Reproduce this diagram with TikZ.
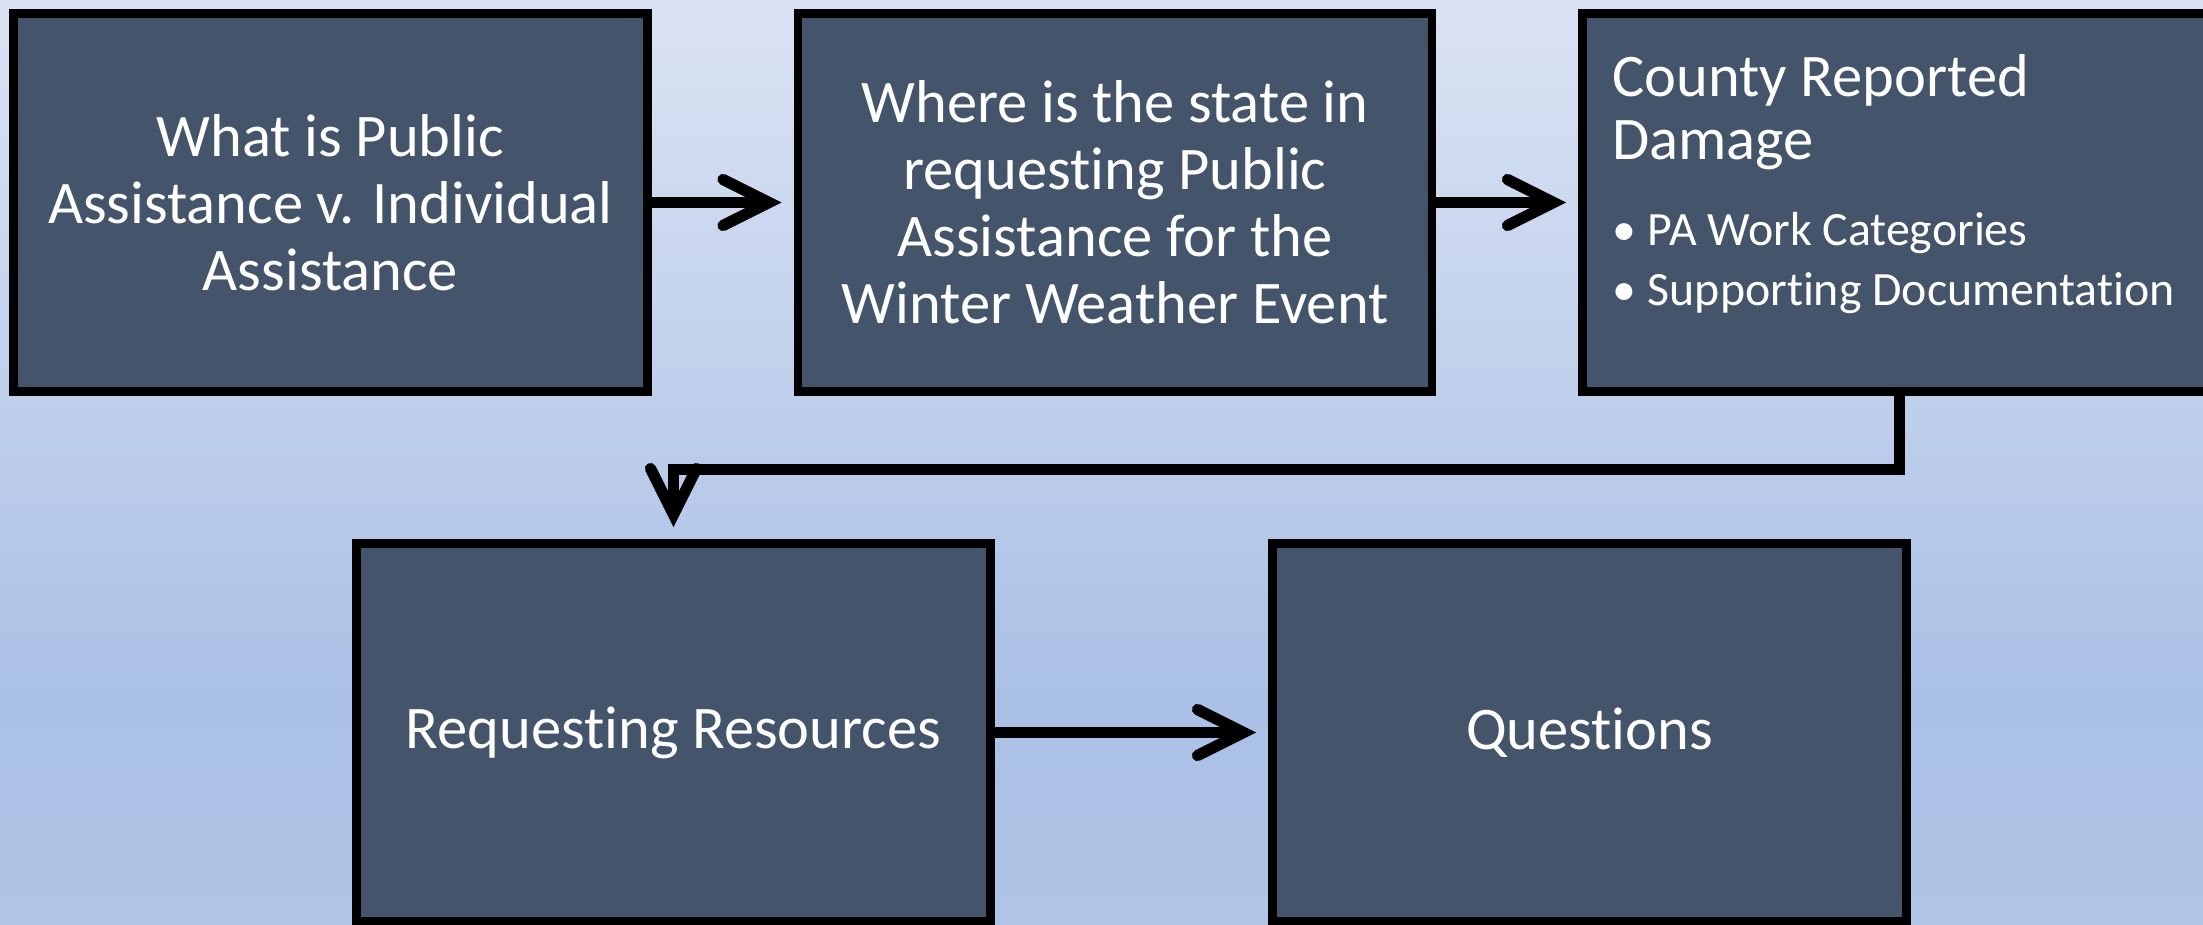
\documentclass[tikz,border=0pt]{standalone}
\usepackage{fontspec}
\setmainfont{Carlito}[Ligatures={NoCommon}]
\usepackage{tikz}
\usetikzlibrary{positioning,arrows.meta}
\definecolor{slate}{HTML}{44546A}
\definecolor{bgtop}{HTML}{DAE3F3}
\definecolor{bgmid}{HTML}{ABC0E6}
\definecolor{bgbot}{HTML}{B0C4E6}
\tikzset{blk/.style={rectangle,draw=black,fill=slate,line width=2.4pt,minimum width=6.34cm,minimum height=3.78cm,inner sep=0pt,text=white,align=center,font=\fontsize{17.2}{0.67cm}\selectfont}}
\tikzset{flow/.style={line width=3.2pt,-{Straight Barb[length=0.46cm,width=0.46cm,line cap=round]},shorten >=0.12cm}}

\begin{document}
\begin{tikzpicture}[x=0.01cm,y=-0.01cm]
    \useasboundingbox (0,0) rectangle (2203,924);
    \clip (0,0) rectangle (2203,924);
    \shade[top color=bgtop,bottom color=bgmid] (0,0) rectangle (2203,700);
    \shade[top color=bgmid,bottom color=bgbot] (0,700) rectangle (2203,924);

    \node[blk] (wpa) at (330.5,202.5) {What is Public\\Assistance v. Individual\\Assistance};
    \node[blk] (wst) at (1115,202.5) {Where is the state in\\requesting Public\\Assistance for the\\Winter Weather Event};
    \node[blk] (dmg) at (1899.5,202.5) {\begin{minipage}[c][3.78cm][t]{5.74cm}
        {\fontsize{17.2}{0.63cm}\selectfont\rule{0pt}{0.835cm}County Reported\\Damage\par}
        {\fontsize{13.6}{0.85cm}\selectfont\makebox[0.24cm][c]{•}\hspace{0.115cm}PA Work Categories\par}
        {\fontsize{13.6}{0.6cm}\selectfont\makebox[0.24cm][c]{•}\hspace{0.115cm}Supporting Documentation\par}
    \end{minipage}};
    \node[blk] (rqr) at (673.5,732.5) {Requesting Resources};
    \node[blk] (qst) at (1589.5,732.5) {Questions};

    \draw[flow] (wpa.east) -- (wst.west);
    \draw[flow] (wst.east) -- (dmg.west);
    \draw[flow] (dmg.south) -- ++(0,73.5) -| (rqr.north);
    \draw[flow] (rqr.east) -- (qst.west);
\end{tikzpicture}
\end{document}
